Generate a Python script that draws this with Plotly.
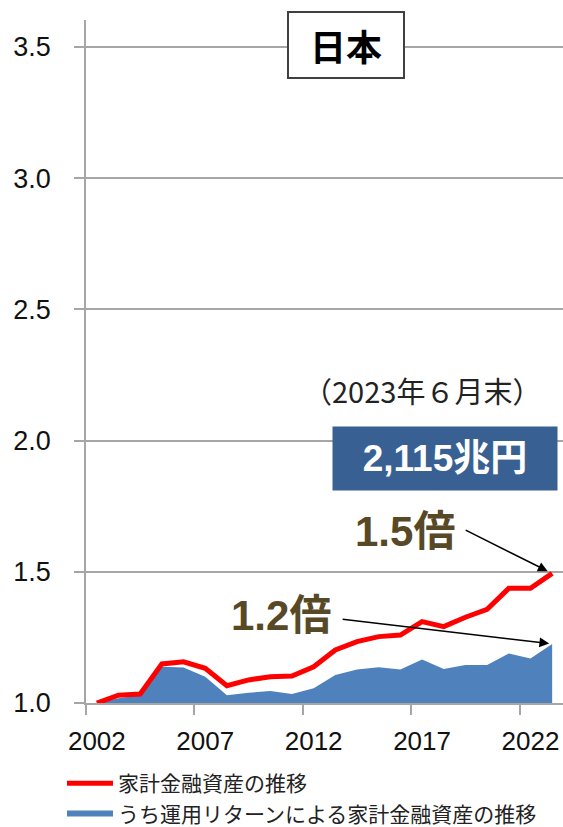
import plotly.graph_objects as go

years = list(range(2002, 2024))
total_assets = [1.000, 1.030, 1.034, 1.149, 1.157, 1.132, 1.066, 1.088, 1.100, 1.103,
                1.138, 1.202, 1.234, 1.253, 1.259, 1.310, 1.291, 1.327, 1.357, 1.437,
                1.437, 1.494]
return_assets = [1.000, 1.018, 1.030, 1.138, 1.135, 1.100, 1.030, 1.039, 1.046, 1.034,
                 1.056, 1.107, 1.128, 1.136, 1.128, 1.166, 1.130, 1.145, 1.145, 1.189,
                 1.170, 1.225]
x_tick_years = [2002, 2007, 2012, 2017, 2022]
x_boundaries = [2001.5, 2006.5, 2011.5, 2016.5, 2021.5]
y_ticks = [1.0, 1.5, 2.0, 2.5, 3.0, 3.5]

name_total = "家計金融資産の推移"
name_return = "うち運用リターンによる家計金融資産の推移"

FONT = "Liberation Sans, Arial, Noto Sans CJK JP, sans-serif"
CJK = "Noto Sans CJK JP, Liberation Sans, sans-serif"
GRID = "#A6A6A6"
OLIVE = "#574826"

fig = go.Figure()
fig.add_trace(go.Scatter(
    x=years, y=return_assets, name=name_return, mode="none",
    fill="tozeroy", fillcolor="#4F81BD", legendrank=2, hoverinfo="skip"))
fig.add_trace(go.Scatter(
    x=years, y=total_assets, name=name_total, mode="lines",
    line=dict(color="#FF0000", width=5), legendrank=1, hoverinfo="skip"))

PW, PH = 477, 683

def px(x):
    return (x - 86) / PW

def py(y):
    return (703 - y) / PH

ann = []
ann.append(dict(xref="paper", yref="paper", x=px(346), y=py(45),
                text="<b>日本</b>", showarrow=False, font=dict(family=CJK, size=36, color="#000"),
                bgcolor="white", bordercolor="#404040", borderwidth=2, width=112, height=62,
                xanchor="center", yanchor="middle"))
ann.append(dict(xref="paper", yref="paper", x=px(422), y=py(390),
                text="（2023年６月末）", showarrow=False, font=dict(family=CJK, size=29, color="#222"),
                xanchor="center", yanchor="middle"))
ann.append(dict(xref="paper", yref="paper", x=px(445), y=py(458),
                text="<b>2,115兆円</b>", showarrow=False, font=dict(family=FONT, size=37, color="white"),
                bgcolor="#386092", width=222, height=61,
                xanchor="center", yanchor="middle"))
ann.append(dict(xref="paper", yref="paper", x=px(405), y=py(531),
                text="<b>1.5倍</b>", showarrow=False, font=dict(family=FONT, size=42, color=OLIVE),
                xanchor="center", yanchor="middle"))
ann.append(dict(xref="paper", yref="paper", x=px(281), y=py(615),
                text="<b>1.2倍</b>", showarrow=False, font=dict(family=FONT, size=42, color=OLIVE),
                xanchor="center", yanchor="middle"))
ann.append(dict(x=years[-1], y=total_assets[-1], xref="x", yref="y", text="",
                showarrow=True, ax=-88, ay=-44, arrowhead=2, arrowsize=1.3, arrowwidth=1.5,
                arrowcolor="black", standoff=5))
ann.append(dict(x=years[-1], y=return_assets[-1], xref="x", yref="y", text="",
                showarrow=True, ax=-211, ay=-25, arrowhead=2, arrowsize=1.3, arrowwidth=1.5,
                arrowcolor="black", standoff=3))

fig.update_layout(
    width=563, height=827,
    margin=dict(l=86, r=0, t=20, b=124, autoexpand=False),
    paper_bgcolor="white", plot_bgcolor="white",
    showlegend=True,
    legend=dict(xref="paper", yref="paper", x=px(62), y=py(763),
                xanchor="left", yanchor="top", orientation="v",
                font=dict(family=CJK, size=21, color="#222"), itemwidth=46,
                bgcolor="rgba(0,0,0,0)", tracegroupgap=0),
    annotations=ann,
    xaxis=dict(range=[2001.5, 2023.5], tickmode="array", tickvals=x_tick_years,
               ticktext=[str(v) for v in x_tick_years], ticks="", showgrid=False,
               showline=True, linecolor=GRID, linewidth=1.5, zeroline=False,
               automargin=False,
               tickfont=dict(family=FONT, size=26, color="#111"), ticklabelstandoff=14,
               minor=dict(tickmode="array", tickvals=x_boundaries, ticks="outside",
                          ticklen=10, tickcolor=GRID, tickwidth=1.5, showgrid=False)),
    yaxis=dict(range=[1.0, 3.603], tickmode="array", tickvals=y_ticks,
               ticktext=[f"{v:.1f}" for v in y_ticks], ticks="outside", ticklen=10,
               tickcolor=GRID, tickwidth=1.5, showgrid=True, gridcolor=GRID, gridwidth=1.5,
               showline=True, linecolor=GRID, linewidth=1.5, zeroline=False,
               automargin=False,
               tickfont=dict(family=FONT, size=27, color="#111"), ticklabelstandoff=18),
)

fig.write_html("out.html", config={"displayModeBar": False},
               post_script="document.body.style.margin='0';document.body.style.overflow='hidden';")
